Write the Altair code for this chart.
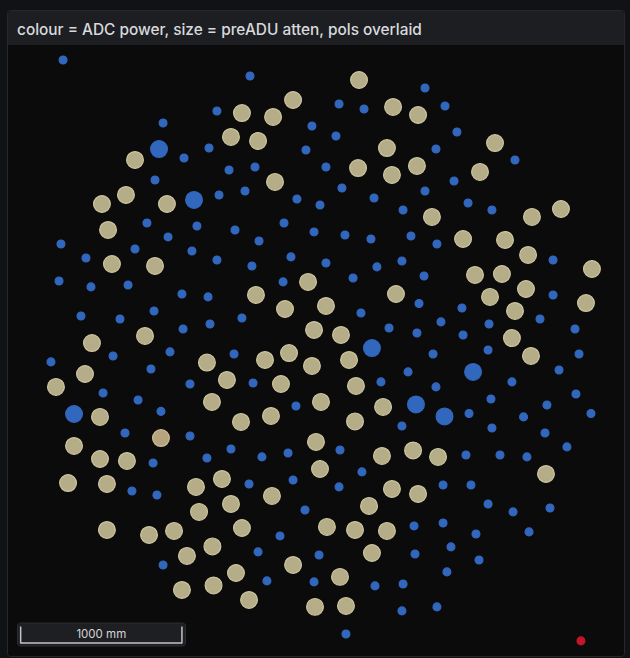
import altair as alt
import pandas as pd

# Antenna positions (east, north) in millimetres from the station centre,
# grouped by ADC power state and preADU attenuation setting.
low_power_low_atten = [
    (-1593, 1798), (-434, 1699), (-639, 1482), (-973, 1407), (-50, 1389), (-688, 1252),
    (-87, 1240), (-843, 1190), (-564, 1116), (-403, 1135), (-1023, 1054), (-626, 961),
    (-465, 986), (-143, 936), (0, 899), (651, 1624), (118, 1525), (273, 1494), (775, 1513),
    (99, 1327), (849, 1352), (719, 1246), (37, 1135), (1209, 1178), (831, 1048), (136, 1004),
    (335, 942), (651, 986), (515, 868), (918, 911), (1066, 868),
    (-1073, 787), (-763, 769), (-942, 701), (-1606, 657), (-1147, 626), (-794, 614),
    (-1451, 570), (-1618, 428), (-1420, 391), (-1190, 403), (-856, 347), (-694, 329),
    (-1482, 211), (-1240, 192), (-1029, 242), (-849, 130), (-682, 161), (-1283, -37),
    (-930, -12), (-1668, -74), (-1048, -118), (-1345, -267), (-1128, -310), (-806, -211),
    (-986, -381),
    (-527, 744), (-223, 787), (-378, 676), (-37, 732), (155, 713), (316, 688), (564, 707),
    (-639, 558), (-422, 521), (-180, 577), (37, 539), (353, 515), (508, 552), (-229, 422),
    (205, 446), (614, 288), (-484, 198), (254, 229), (428, 136), (601, 105), (-533, -25),
    (-415, -205), (378, -198), (546, -136), (-149, -347),
    (725, 657), (1445, 558), (645, 459), (1445, 341), (880, 260), (750, 174), (1048, 161),
    (1364, 192), (1581, 130), (887, 93), (701, -25), (1042, 0), (1606, -25), (1482, -124),
    (719, -229), (1190, -198), (1060, -304), (1587, -273), (924, -394), (1262, -415),
    (1407, -341), (1680, -394),
    (-1209, -515), (-806, -533), (-1035, -701), (-701, -670), (-1166, -874), (-1011, -899),
    (-973, -1333),
    (508, -471), (-552, -614), (-360, -663), (-198, -639), (124, -620), (-440, -831),
    (-167, -806), (260, -756), (118, -849), (-93, -992), (-248, -1153), (583, -1091),
    (-384, -1252), (-6, -1271), (589, -1265), (-329, -1432), (-37, -1438), (341, -1463),
    (515, -1451), (508, -1618), (161, -1761),
    (1066, -484), (1395, -515), (1531, -601), (905, -651), (1116, -651), (1283, -663),
    (763, -837), (936, -837), (1042, -955), (1197, -1004), (1426, -980), (763, -1073),
    (967, -1141), (1296, -1128), (812, -1221), (986, -1302), (787, -1376), (725, -1593),
]

low_power_high_atten = [
    (-998, 1246), (-781, 930), (-1525, -397), (322, 12), (595, -338), (949, -136), (772, -412),
]

nominal_power_high_atten = [
    (-167, 1550), (-484, 1469), (-291, 1445), (-552, 1321), (-384, 1296), (-1147, 1178),
    (-279, 1042), (-1203, 961), (-1352, 905), (-949, 905), (242, 1674), (453, 1507),
    (608, 1457), (415, 1252), (1085, 1283), (236, 1128), (446, 1085), (601, 1141),
    (992, 1104), (694, 825), (1314, 825), (1494, 874),
    (-1314, 744), (-1290, 533), (-1023, 521), (-1414, 43), (-1085, 87), (-701, -78),
    (-1457, -149), (-1637, -229), (-670, -322), (-1364, -415),
    (-74, 422), (-397, 341), (471, 347), (-217, 254), (37, 273), (-37, 124), (130, 93),
    (-341, -62), (-192, -19), (-50, -99), (180, -62), (-577, -186), (-242, -211),
    (223, -223), (6, -322), (391, -353), (-490, -446), (-304, -409), (217, -443),
    (887, 688), (1147, 682), (1290, 589), (1686, 502), (961, 465), (1128, 471), (1277, 378),
    (1054, 329), (1649, 291), (1209, 242), (1190, 74), (1308, -37),
    (-1525, -595), (-1364, -676), (-1197, -688), (-1562, -825), (-1321, -831), (-769, -849),
    (-750, -1004), (-1321, -1116), (-1060, -1147), (-905, -1122), (-667, -1218),
    (-825, -1277), (-856, -1488), (-660, -1460),
    (-25, -570), (384, -657), (577, -623), (-608, -800), (0, -738), (446, -862), (608, -893),
    (-552, -955), (-298, -905), (304, -967), (-484, -1104), (43, -1097), (217, -1116),
    (415, -1122), (322, -1259), (-167, -1333), (-521, -1383), (124, -1407), (-440, -1550),
    (-31, -1593), (161, -1587),
    (732, -663), (1401, -769),
]

elevated_power_high_atten = [(-986, -546)]

high_power_low_atten = [(1618, -1804)]

ADC_LEVELS = ["low", "nominal", "elevated", "high"]
ADC_FILL = ["#3267be", "#b5ad88", "#b6a47e", "#c4162a"]
ADC_EDGE = ["#3267be", "#cdc5a0", "#cdbd96", "#c4162a"]
ATTEN_DB = [0, 12]
MARK_AREA = [62, 282]

rows = []
for pts, adc, atten in [
    (low_power_low_atten, "low", 0),
    (low_power_high_atten, "low", 12),
    (nominal_power_high_atten, "nominal", 12),
    (elevated_power_high_atten, "elevated", 12),
    (high_power_low_atten, "high", 0),
]:
    for east, north in pts:
        rows.append({"east": east, "north": north, "adc": adc, "atten": atten})
antennas = pd.DataFrame(rows)

# Map extent in millimetres (6.2 mm per screen pixel)
X_DOMAIN = [-1984, 1922]
Y_DOMAIN = [-1910, 2170]
x_scale = alt.Scale(domain=X_DOMAIN, nice=False, zero=False)
y_scale = alt.Scale(domain=Y_DOMAIN, nice=False, zero=False)

SCALE_BAR_START = -1856
SCALE_BAR_LENGTH = 1000

TITLE = "colour = ADC power, size = preADU atten, pols overlaid"
FONT = "Inter"

one_row = alt.Data(values=[{"k": 0}])

panel = alt.Chart(one_row).mark_rect(
    fill="#0b0b0c", stroke="#26282d", strokeWidth=1, cornerRadius=3
).encode(x=alt.value(7.5), x2=alt.value(624.5), y=alt.value(10.5), y2=alt.value(656.5))

title_bar = alt.Chart(one_row).mark_rect(
    fill="#1c1e22", cornerRadiusTopLeft=3, cornerRadiusTopRight=3
).encode(x=alt.value(8), x2=alt.value(624), y=alt.value(11), y2=alt.value(45))

title_text = alt.Chart(one_row).mark_text(
    text=TITLE, font=FONT, fontSize=15.4, fontWeight=500, color="#d8d9dc",
    align="left", baseline="alphabetic",
).encode(x=alt.value(17), y=alt.value(34.5))

points = alt.Chart(antennas).mark_circle(opacity=1, strokeWidth=1.2).encode(
    x=alt.X("east:Q", scale=x_scale, axis=None),
    y=alt.Y("north:Q", scale=y_scale, axis=None),
    color=alt.Color("adc:N", scale=alt.Scale(domain=ADC_LEVELS, range=ADC_FILL), legend=None),
    stroke=alt.Stroke("adc:N", scale=alt.Scale(domain=ADC_LEVELS, range=ADC_EDGE), legend=None),
    size=alt.Size("atten:O", scale=alt.Scale(domain=ATTEN_DB, range=MARK_AREA), legend=None),
)

scale_box = alt.Chart(one_row).mark_rect(
    fill="#1e1f23", stroke="#2c2d32", strokeWidth=1, cornerRadius=3
).encode(x=alt.value(17.5), x2=alt.value(185.5), y=alt.value(623), y2=alt.value(646))

bar_df = pd.DataFrame({"start": [SCALE_BAR_START], "end": [SCALE_BAR_START + SCALE_BAR_LENGTH],
                       "mid": [SCALE_BAR_START + SCALE_BAR_LENGTH / 2],
                       "label": [f"{SCALE_BAR_LENGTH} mm"]})
ends_df = pd.DataFrame({"pos": [SCALE_BAR_START, SCALE_BAR_START + SCALE_BAR_LENGTH]})

bar_line = alt.Chart(bar_df).mark_rule(color="#c4c5c8", strokeWidth=1.5).encode(
    x=alt.X("start:Q", scale=x_scale, axis=None), x2="end:Q", y=alt.value(643)
)
bar_ends = alt.Chart(ends_df).mark_rule(color="#c4c5c8", strokeWidth=1.5).encode(
    x=alt.X("pos:Q", scale=x_scale, axis=None), y=alt.value(626.5), y2=alt.value(643.5)
)
bar_label = alt.Chart(bar_df).mark_text(
    font=FONT, fontSize=11.5, color="#d4d5d8", baseline="middle", align="center"
).encode(x=alt.X("mid:Q", scale=x_scale, axis=None), y=alt.value(634.5), text="label:N")

chart = alt.layer(
    panel, title_bar, title_text, points, scale_box, bar_line, bar_ends, bar_label
).properties(
    width=630, height=658, autosize=alt.AutoSizeParams(type="none"), padding=0,
    background="#111215",
).configure_view(strokeWidth=0)

chart.save("out.html", embed_options={"renderer": "svg", "actions": False})
